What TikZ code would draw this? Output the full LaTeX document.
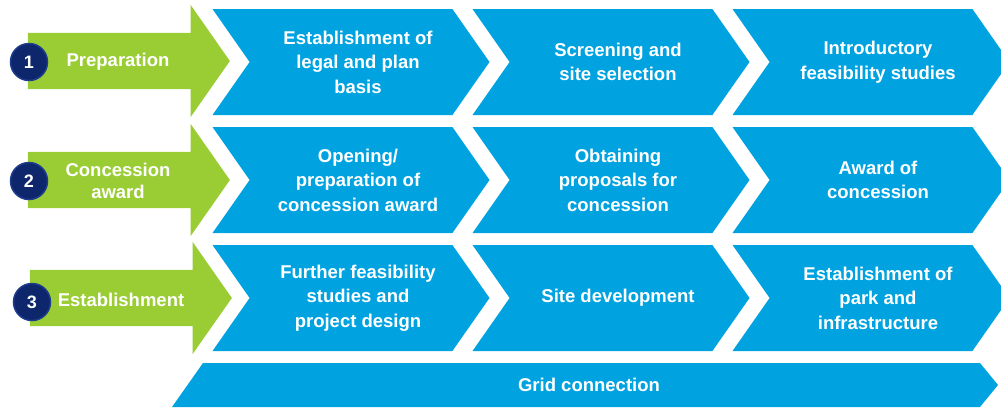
\documentclass[tikz,border=0pt]{standalone}
\usepackage{fontspec}
\setmainfont{Liberation Sans}
\usetikzlibrary{shapes.symbols,shapes.arrows,positioning}

\definecolor{stepblue}{RGB}{0,163,224}
\definecolor{phasegreen}{RGB}{154,204,52}
\definecolor{navyblue}{RGB}{13,38,108}
\definecolor{ringblue}{RGB}{30,60,140}

\begin{document}
\begin{tikzpicture}[x=1pt,y=-1pt,node distance=260pt,on grid,
	chev/.style={signal,signal to=east,signal from=west,signal pointer angle=110,
		fill=stepblue,inner sep=0pt,minimum width=277pt,minimum height=106pt},
	steptext/.style={text=white,align=center,xshift=7pt,
		font=\bfseries\fontsize{18.5}{24.5}\selectfont},
	phase/.style={single arrow,single arrow head extend=28pt,single arrow tip angle=110,
		fill=phasegreen,inner xsep=0pt,inner ysep=28pt,minimum height=202pt},
	phasetext/.style={text=white,align=center,font=\bfseries\fontsize{18.5}{22.5}\selectfont},
	num/.style={circle,fill=navyblue,draw=ringblue,line width=1.5pt,text=white,
		minimum size=37pt,inner sep=0pt,font=\bfseries\fontsize{18}{18}\selectfont}]
	\useasboundingbox (0,0) rectangle (1001,408);
	% phases
	\node[phase] (g1) at (119,61) {};
	\node[phase] (g2) at (119,180) {};
	\node[phase] (g3) at (121,298) {};
	\node[phasetext] (preparation) at (118,62) {Preparation};
	\node[phasetext] (concession) at (118,181) {Concession\\award};
	\node[phasetext] (establishment) at (121,300) {Establishment};
	\node[num] (n1) at (29,62) {1};
	\node[num] (n2) at (29,181) {2};
	\node[num] (n3) at (32,302) {3};
	% steps
	\node[chev,label={[steptext]center:Establishment of\\legal and plan\\basis}] (legal) at (351,62) {};
	\node[chev,label={[steptext]center:Screening and\\site selection}] (screen) [right=of legal] {};
	\node[chev,label={[steptext]center:Introductory\\feasibility studies}] (intro) [right=of screen] {};
	\node[chev,label={[steptext]center:Opening/\\preparation of\\concession award}] (opening) [below=118pt of legal] {};
	\node[chev,label={[steptext]center:Obtaining\\proposals for\\concession}] (proposals) [right=of opening] {};
	\node[chev,label={[steptext]center:Award of\\concession}] (award) [right=of proposals] {};
	\node[chev,label={[steptext]center:Further feasibility\\studies and\\project design}] (design) [below=118pt of opening] {};
	\node[chev,label={[steptext]center:Site development}] (site) [right=of design] {};
	\node[chev,label={[steptext]center:Establishment of\\park and\\infrastructure}] (park) [right=of site] {};
	% grid
	\fill[stepblue] (203,363) -- (980,363) -- (998,385) -- (980,407) -- (172,407) -- cycle;
	\node[phasetext] (grid) at (589,385) {Grid connection};
\end{tikzpicture}
\end{document}
